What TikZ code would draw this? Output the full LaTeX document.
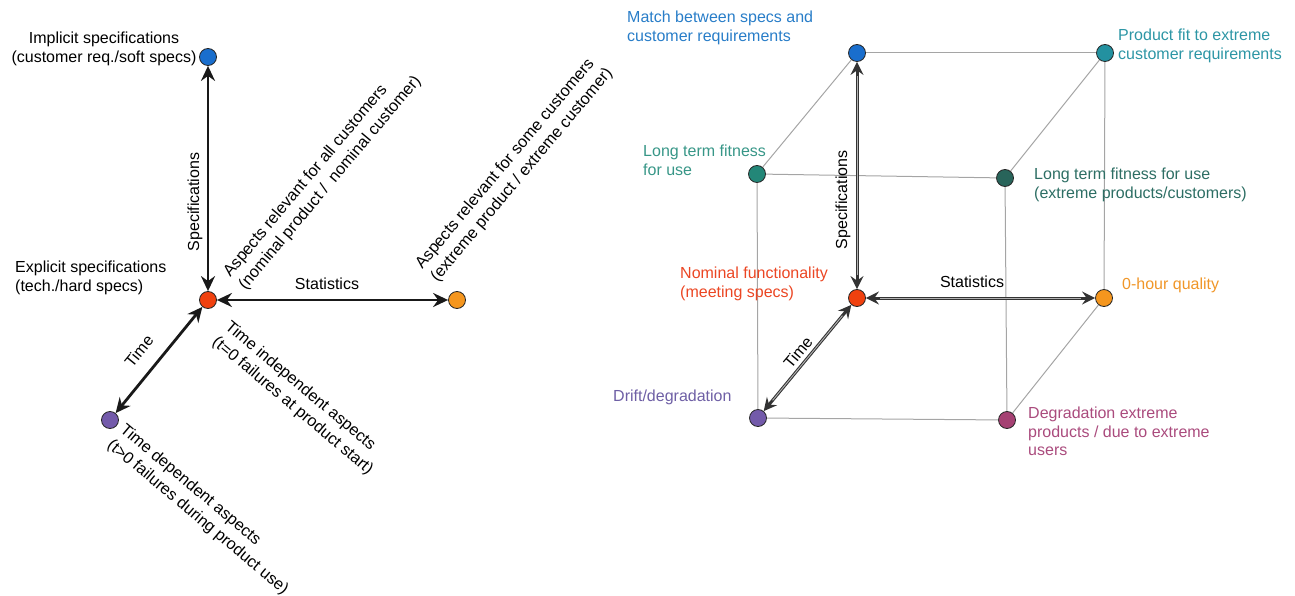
\documentclass[tikz,border=0pt]{standalone}
\usepackage{fontspec}
\setmainfont{Liberation Sans}
\usetikzlibrary{arrows.meta}
\definecolor{cblue}{RGB}{25,110,205}
\definecolor{tblue}{RGB}{40,125,200}
\definecolor{cred}{RGB}{240,65,15}
\definecolor{tred}{RGB}{235,70,35}
\definecolor{corange}{RGB}{245,150,30}
\definecolor{torange}{RGB}{240,150,40}
\definecolor{cpurple}{RGB}{115,90,170}
\definecolor{tpurple}{RGB}{110,95,165}
\definecolor{cteal}{RGB}{35,145,160}
\definecolor{tteal}{RGB}{45,150,165}
\definecolor{cgreen}{RGB}{35,135,120}
\definecolor{tgreen}{RGB}{55,150,135}
\definecolor{cdteal}{RGB}{40,100,90}
\definecolor{tdteal}{RGB}{45,110,100}
\definecolor{cmag}{RGB}{165,65,115}
\definecolor{tmag}{RGB}{170,75,125}
\definecolor{edgegray}{RGB}{165,165,165}
\begin{document}
\begin{tikzpicture}[x=1pt,y=-1pt,
  every node/.style={font=\fontsize{16}{18.5}\selectfont, inner sep=0pt},
  dot/.style={circle, draw=black!85, line width=0.8pt, minimum size=17pt, inner sep=0pt},
  lbl/.style={anchor=north west, align=left},
  rlbl/.style={anchor=north west, align=left, font=\fontsize{16.3}{20}\selectfont},
  larr/.style={line width=2.8pt, draw=black!90, >={Stealth[length=15pt,width=14pt,inset=5pt]}, <->},
  rarr/.style={line width=3pt, draw=black!80, >={Stealth[length=13pt,width=13pt,inset=4.5pt]}, <->},
  rin/.style={line width=0.9pt, draw=gray!60, shorten <=14pt, shorten >=14pt},
  cedge/.style={line width=1pt, draw=edgegray}]
\useasboundingbox (0,0) rectangle (1295,596);

% ---------- left diagram ----------
\node[dot, fill=cblue]   (lS) at (208,57) {};
\node[dot, fill=cred]    (lN) at (208,300) {};
\node[dot, fill=corange] (lO) at (457,300) {};
\node[dot, fill=cpurple] (lP) at (110,420) {};

\draw[larr] (lN) -- (lS);
\draw[larr] (lN) -- (lO);
\draw[larr] (lN) -- (lP);

\node[align=center] (limp) at (104,49) {Implicit specifications\\(customer req./soft specs)};
\node[lbl] (lexp) at (15,261) {Explicit specifications\\(tech./hard specs)};
\node[rotate=90] (lspec) at (195,202) {Specifications};
\node (lstat) at (327,284) {Statistics};
\node[rotate=51] (ltime) at (139,351) {Time};
\node[rlbl, rotate=50] (lall) at (221,270) {Aspects relevant for all customers\\(nominal product /~~nominal customer)};
\node[rlbl, rotate=50] (lsome) at (413,262) {Aspects relevant for some customers\\(extreme product / extreme customer)};
\node[rlbl, rotate=-40] (lind) at (232,319) {Time independent aspects\\(t=0 failures at product start)};
\node[rlbl, rotate=-40] (ldep) at (127,422) {Time dependent aspects\\(t>0 failures during product use)};

% ---------- right diagram (cube) ----------
\node[dot, fill=cblue]   (rS)  at (857,53) {};
\node[dot, fill=cteal]   (rT)  at (1105,53) {};
\node[dot, fill=cgreen]  (rL)  at (757,174) {};
\node[dot, fill=cdteal]  (rD)  at (1005,178) {};
\node[dot, fill=cred]    (rN)  at (857,298) {};
\node[dot, fill=corange] (rO)  at (1104,298) {};
\node[dot, fill=cpurple] (rP)  at (758,418) {};
\node[dot, fill=cmag]    (rM)  at (1007,420) {};

\draw[cedge] (rS) -- (rT);
\draw[cedge] (rS) -- (rL);
\draw[cedge] (rL) -- (rD);
\draw[cedge] (rD) -- (rT);
\draw[cedge] (rL) -- (rP);
\draw[cedge] (rP) -- (rM);
\draw[cedge] (rM) -- (rD);
\draw[cedge] (rT) -- (rO);
\draw[cedge] (rO) -- (rM);

\draw[rarr] (rN) -- (rS);
\draw[rin]  (rN) -- (rS);
\draw[rarr] (rN) -- (rO);
\draw[rin]  (rN) -- (rO);
\draw[rarr] (rN) -- (rP);
\draw[rin]  (rN) -- (rP);

\node[lbl, text=tblue]   (tS) at (627,11)   {Match between specs and\\customer requirements};
\node[lbl, text=tteal]   (tT) at (1118,29)  {Product fit to extreme\\customer requirements};
\node[lbl, text=tgreen]  (tL) at (643,145)  {Long term fitness\\for use};
\node[lbl, text=tdteal]  (tD) at (1034,168) {Long term fitness for use\\(extreme products/customers)};
\node[lbl, text=tred]    (tN) at (680,267)  {Nominal functionality\\(meeting specs)};
\node[lbl, text=torange] (tO) at (1122,278) {0-hour quality};
\node[lbl, text=tpurple] (tP) at (613,390)  {Drift/degradation};
\node[lbl, text=tmag]    (tM) at (1028,407) {Degradation extreme\\products / due to extreme\\users};
\node[rotate=90] (rspec) at (843,200) {Specifications};
\node (rstat) at (972,282) {Statistics};
\node[rotate=50] (rtime) at (798,352) {Time};
\end{tikzpicture}
\end{document}
